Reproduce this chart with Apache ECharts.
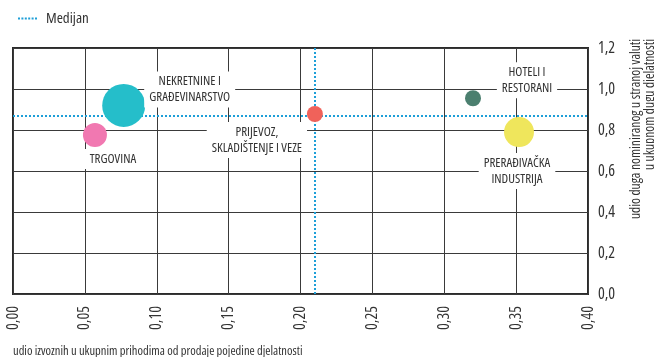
<!DOCTYPE html>
<html>
<head>
<meta charset="utf-8">
<script src="https://cdn.jsdelivr.net/npm/echarts@6/dist/echarts.min.js"></script>
<style>
  html, body { margin: 0; padding: 0; background: #fff; }
  #chart { width: 654px; height: 357px; }
</style>
</head>
<body>
<div id="chart"></div>
<script>
// podaci očitani sa slike
const sectors = ['NEKRETNINE I\nGRAĐEVINARSTVO', 'TRGOVINA', 'PRIJEVOZ,\nSKLADIŠTENJE I VEZE', 'HOTELI I\nRESTORANI', 'PRERAĐIVAČKA\nINDUSTRIJA'];
const exportShare = [0.077, 0.057, 0.210, 0.320, 0.352];
const fxDebtShare = [0.920, 0.776, 0.878, 0.955, 0.790];
const bubbleValue = [43, 24, 16, 16, 30];
const colors = ['#25BECA', '#F178B1', '#F0625A', '#4B7F6F', '#EFE65C'];
const medianX = 0.211;
const medianY = 0.873;
const xTicks = ['0,00', '0,05', '0,10', '0,15', '0,20', '0,25', '0,30', '0,35', '0,40'];
const yTicks = ['0,0', '0,2', '0,4', '0,6', '0,8', '1,0', '1,2'];

// uski font: Open Sans u "condensed" širini
const font = '"Open Sans", sans-serif';
const stretch = 'condensed';
const labelOffsets = [[66, -16], [18, 24], [-58, 26], [54, -18], [-2, 39]];

const chart = echarts.init(document.getElementById('chart'));

const points = sectors.map((name, i) => ({
  name: name,
  value: [exportShare[i], fxDebtShare[i], bubbleValue[i]],
  itemStyle: { color: colors[i], opacity: 1 },
  label: { offset: labelOffsets[i] }
}));

const dots = 'path://M0,0h2v2h-2zM3.4,0h2v2h-2zM6.8,0h2v2h-2zM10.2,0h2v2h-2zM13.6,0h2v2h-2zM17,0h2v2h-2z';

chart.setOption({
  animation: false,
  textStyle: { fontFamily: font, fontStyle: stretch },
  legend: {
    left: 13,
    top: 6,
    itemWidth: 19,
    itemHeight: 2,
    data: [{ name: 'Medijan', icon: dots }],
    textStyle: { fontSize: 15, color: '#333', fontFamily: font, fontStyle: stretch, padding: [0, 0, 0, 4] }
  },
  grid: {
    left: 13,
    right: 66,
    top: 48,
    bottom: 63,
    show: true,
    borderColor: '#2b2b2b',
    borderWidth: 2
  },
  xAxis: {
    type: 'value',
    min: 0,
    max: 0.4,
    interval: 0.05,
    axisLine: { show: false },
    axisTick: { show: false },
    splitLine: { lineStyle: { color: '#3a3a3a', width: 1 } },
    axisLabel: {
      rotate: 90,
      margin: 12,
      fontSize: 16,
      color: '#333',
      fontFamily: font,
      fontStyle: stretch,
      formatter: (v) => xTicks[Math.round(v / 0.05)]
    }
  },
  yAxis: {
    type: 'value',
    position: 'right',
    min: 0,
    max: 1.2,
    interval: 0.2,
    axisLine: { show: false },
    axisTick: { show: false },
    splitLine: { lineStyle: { color: '#3a3a3a', width: 1 } },
    axisLabel: {
      margin: 10,
      fontSize: 16,
      color: '#333',
      fontFamily: font,
      fontStyle: stretch,
      formatter: (v) => yTicks[Math.round(v / 0.2)]
    }
  },
  graphic: [
    {
      type: 'text',
      x: 13,
      y: 351,
      style: {
        text: 'udio izvoznih u ukupnim prihodima od prodaje pojedine djelatnosti',
        font: stretch + ' 12.5px ' + font,
        fill: '#333',
        verticalAlign: 'middle'
      }
    },
    {
      type: 'text',
      x: 643,
      y: 39,
      rotation: Math.PI / 2,
      style: {
        text: 'udio duga nominiranog u stranoj valuti\nu ukupnom dugu djelatnosti',
        font: stretch + ' 13.5px ' + font,
        lineHeight: 14,
        fill: '#333',
        align: 'right',
        verticalAlign: 'middle'
      }
    }
  ],
  series: [
    {
      name: 'Medijan',
      type: 'line',
      z: 1,
      symbol: 'none',
      data: [],
      lineStyle: { color: '#1E9FD8', width: 2, type: [2, 2] },
      itemStyle: { color: '#1E9FD8' },
      markLine: {
        z: 1,
        silent: true,
        symbol: 'none',
        label: { show: false },
        lineStyle: { color: '#1E9FD8', width: 2, type: [2, 2] },
        data: [{ xAxis: medianX }, { yAxis: medianY }]
      }
    },
    {
      name: 'Djelatnosti',
      type: 'scatter',
      z: 3,
      symbolSize: (d) => d[2],
      data: points,
      label: {
        show: true,
        position: 'inside',
        formatter: '{b}',
        fontSize: 13,
        lineHeight: 16,
        color: '#333',
        fontFamily: font,
        fontStyle: stretch,
        align: 'center',
        backgroundColor: '#fff',
        padding: [2, 5]
      }
    }
  ]
});
</script>
</body>
</html>
